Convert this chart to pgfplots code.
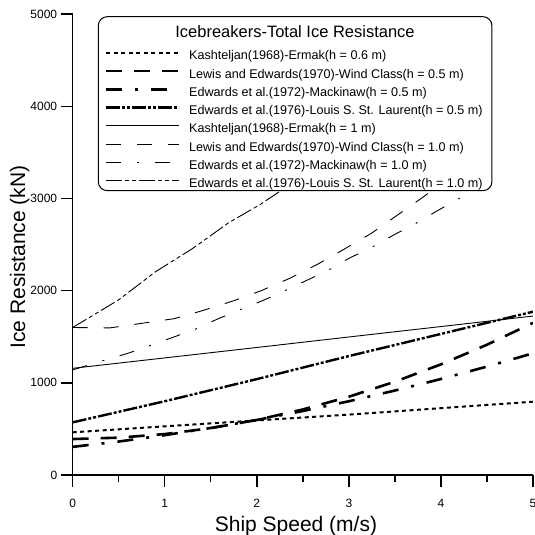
\documentclass[border=0pt]{standalone}
\usepackage{fontspec}
\setmainfont{Liberation Sans}
\usepackage{pgfplots}
\pgfplotsset{compat=1.18}
\begin{document}
\begin{tikzpicture}
\path[use as bounding box] (-72.7bp,-60bp) rectangle (462.3bp,475bp);
\begin{axis}[
  at={(0,0)}, anchor=south west, scale only axis,
  width=460.3bp, height=461bp,
  xmin=0, xmax=5, ymin=0, ymax=5000,
  axis x line*=bottom, axis y line*=left, axis line style={line width=1.2bp},
  tick align=outside, major tick length=12bp, minor tick length=7bp,
  xtick={0,1,2,3,4,5}, minor xtick={0.5,1.5,2.5,3.5,4.5},
  ytick={0,1000,...,5000},
  major tick style={black, line width=1.4bp},
  minor tick style={black, line width=1.4bp},
  /pgf/number format/assume math mode=true,
  /pgf/number format/1000 sep={},
  scaled y ticks=false,
  ticklabel style={font=\fontsize{12bp}{14bp}\selectfont},
  xticklabel style={yshift=-9bp},
  xlabel={Ship Speed (m/s)}, ylabel={Ice Resistance (kN)},
  label style={font=\fontsize{21bp}{24bp}\selectfont},
  xlabel style={at={(rel axis cs:0.485,-0.1215)}, anchor=base},
  ylabel style={at={(rel axis cs:-0.1036,0.473)}, anchor=base},
  legend style={at={(axis description cs:0.0702,0.9204)}, anchor=north west,
    draw=none, fill=none, inner sep=0pt, outer sep=0pt,
    row sep=6.3bp, column sep=8.5bp,
    font=\fontsize{12.6bp}{15bp}\selectfont,
    nodes={inner sep=0pt, text height=9bp, text depth=3bp}},
  legend cell align=left,
  legend image code/.code={\draw[#1] (0bp,4bp) -- (73bp,4bp);},
]
\addplot[black, line width=2bp, dash pattern=on 4bp off 3.5bp] coordinates {(0,463)(1,528)(2,592)(3,655)(4,725)(5,795)};
\addlegendentry{Kashteljan(1968)-Ermak(h = 0.6 m)}
\addplot[black, line width=2.6bp, dash pattern=on 16bp off 12bp] coordinates {(0,390)(0.5,405)(1,444)(1.5,508)(2,597)(2.5,711)(3,849)(3.5,1012)(4,1200)(4.5,1413)(5,1650)};
\addlegendentry{Lewis and Edwards(1970)-Wind Class(h = 0.5 m)}
\addplot[black, line width=2.6bp, dash pattern=on 16bp off 13bp on 3bp off 13bp] coordinates {(0,305)(0.5,363)(1,432)(1.5,510)(2,597)(2.5,694)(3,800)(3.5,916)(4,1041)(4.5,1176)(5,1320)};
\addlegendentry{Edwards et al.(1972)-Mackinaw(h = 0.5 m)}
\addplot[black, line width=2.4bp, dash pattern=on 14bp off 2bp on 3bp off 2bp on 3bp off 2bp] coordinates {(0,571)(1,800)(2,1040)(3,1290)(4,1530)(5,1771)};
\addlegendentry{Edwards et al.(1976)-Louis S. St. Laurent(h = 0.5 m)}
\addplot[black, line width=0.9bp] coordinates {(0,1157)(1,1270)(2,1383)(3,1497)(4,1610)(5,1724)};
\addlegendentry{Kashteljan(1968)-Ermak(h = 1 m)}
\addplot[black, line width=0.9bp, dash pattern=on 15bp off 16bp] coordinates {(0,1600)(0.4,1595)(0.75,1645)(1.1,1695)(1.4,1780)(1.75,1890)(2.05,2000)(2.35,2130)(2.65,2280)(2.95,2450)(3.25,2625)(3.5,2800)(3.8,3010)(3.95,3120)};
\addlegendentry{Lewis and Edwards(1970)-Wind Class(h = 1.0 m)}
\addplot[black, line width=0.9bp, dash pattern=on 15bp off 16bp on 2bp off 16bp] coordinates {(0,1140)(0.33,1240)(0.6,1320)(0.83,1400)(1.08,1490)(1.33,1580)(1.57,1690)(1.81,1790)(2.06,1890)(2.30,1996)(2.54,2110)(2.78,2223)(3.0,2350)(3.25,2470)(3.48,2600)(3.71,2719)(3.95,2860)(4.2,3000)(4.4,3130)};
\addlegendentry{Edwards et al.(1972)-Mackinaw(h = 1.0 m)}
\addplot[black, line width=0.9bp, dash pattern=on 16bp off 3bp on 4bp off 3bp on 4bp off 3bp] coordinates {(0,1600)(0.5,1900)(0.9,2205)(1.3,2455)(1.7,2740)(2.03,2930)(2.3,3110)};
\addlegendentry{Edwards et al.(1976)-Louis S. St. Laurent(h = 1.0 m)}
\draw[line width=1bp, rounded corners=9bp, fill=white] (axis cs:0.278,4971) rectangle (axis cs:4.554,3084);
\node[anchor=base, inner sep=0pt, font=\fontsize{16.5bp}{18bp}\selectfont] at (axis cs:2.415,4740) {Icebreakers-Total Ice Resistance};
\end{axis}
\end{tikzpicture}
\end{document}
